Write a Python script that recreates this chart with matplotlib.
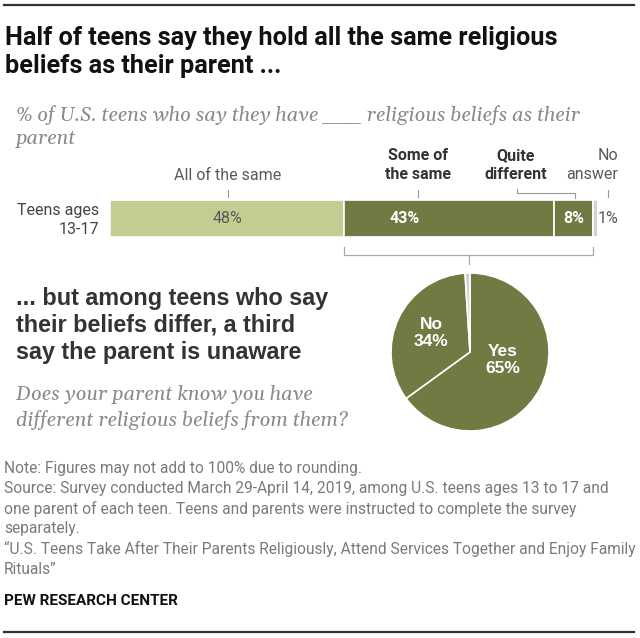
import matplotlib
matplotlib.use("Agg")
import matplotlib.pyplot as plt
import numpy as np

# data
bar_labels = ["All of the same", "Some of\nthe same", "Quite\ndifferent", "No\nanswer"]
bar_values = [48, 43, 8, 1]
bar_text = ["48%", "43%", "8%", "1%"]
pie_labels = ["Yes", "No", "No answer"]
pie_values = [65, 34, 1]

LIGHT = "#c3cd92"
DARK = "#727a44"
GRAY_NA = "#d2d2d2"
TXT = "#595959"
NOTE = "#7a7a7a"

BODY = ["Roboto", "DejaVu Sans"]
HEAD = ["Liberation Sans", "DejaVu Sans"]
SERIF = ["Gelasio", "DejaVu Serif"]
LBL = 11.5

W, H = 640, 638
fig = plt.figure(figsize=(W / 100, H / 100), dpi=100)

# background axes in pixel units for text and rules
bg = fig.add_axes([0, 0, 1, 1])
bg.set_xlim(0, W)
bg.set_ylim(H, 0)
bg.axis("off")

def px_axes(x0, y0, x1, y1):
    return fig.add_axes([x0 / W, 1 - y1 / H, (x1 - x0) / W, (y1 - y0) / H])

# top and bottom rules
bg.plot([4, 634], [5, 5], color="#333333", lw=1.6)
bg.plot([4, 634], [632, 632], color="#333333", lw=1.6)

# title
bg.text(5, 38, "Half of teens say they hold all the same religious", fontsize=18.2,
        fontweight="bold", family=BODY, color="#111111", va="center")
bg.text(5, 66, "beliefs as their parent ...", fontsize=18.2,
        fontweight="bold", family=BODY, color="#111111", va="center")

# subtitle
bg.text(16, 115, "% of U.S. teens who say they have ___ religious beliefs as their",
        fontsize=14.4, style="italic", family=SERIF, color="#8a8a8a", va="center")
bg.text(16, 139, "parent", fontsize=14.4, style="italic", family=SERIF,
        color="#8a8a8a", va="center")

# stacked bar
bx = px_axes(110, 200, 598, 237)
left = np.concatenate([[0], np.cumsum(bar_values)[:-1]])
colors = [LIGHT, DARK, DARK, GRAY_NA]
bx.barh([0], bar_values, left=left, color=colors, height=1.0,
        edgecolor="white", linewidth=1.2)
bx.set_xlim(0, 100)
bx.set_ylim(-0.5, 0.5)
bx.axis("off")

# value labels inside the bar
bx.text(left[0] + bar_values[0] / 2, 0, bar_text[0], ha="center", va="center",
        fontsize=LBL, family=BODY, color=TXT)
bx.text(left[1] + bar_values[1] * 0.29, 0, bar_text[1], ha="center", va="center",
        fontsize=LBL, family=BODY, color="white", fontweight="bold")
bx.text(left[2] + bar_values[2] / 2, 0, bar_text[2], ha="center", va="center",
        fontsize=LBL, family=BODY, color="white", fontweight="bold")
bx.text(99.9, 0, bar_text[3], ha="left", va="center",
        fontsize=LBL, family=BODY, color=TXT)

# row label
bg.text(99, 210, "Teens ages", ha="right", va="center", fontsize=LBL, family=BODY, color="#444444")
bg.text(99, 230, "13-17", ha="right", va="center", fontsize=LBL, family=BODY, color="#444444")

# category labels above bar
bg.text(228, 175, bar_labels[0], ha="center", va="center", fontsize=LBL, family=BODY, color=TXT)
bg.plot([228, 228], [190, 197], color="#999999", lw=0.8)
bg.text(418, 165, bar_labels[1], ha="center", va="center", fontsize=LBL, family=BODY,
        color="#333333", fontweight="bold", linespacing=1.35)
bg.plot([418, 418], [190, 197], color="#999999", lw=0.8)
bg.text(516, 165, bar_labels[2], ha="center", va="center", fontsize=LBL, family=BODY,
        color="#333333", fontweight="bold", linespacing=1.35)
bg.plot([517, 517, 575, 575], [189, 193, 193, 198], color="#999999", lw=0.8)
bg.text(618, 165, bar_labels[3], ha="right", va="center", fontsize=LBL, family=BODY,
        color=TXT, linespacing=1.35)
bg.plot([608, 608], [190, 197], color="#999999", lw=0.8)

# bracket below bar
bg.plot([344, 344, 593, 593], [247, 255, 255, 247], color="#aaaaaa", lw=0.9)
bg.plot([469, 469], [255, 264], color="#aaaaaa", lw=0.9)

# second heading
for i, line in enumerate(["... but among teens who say",
                          "their beliefs differ, a third",
                          "say the parent is unaware"]):
    bg.text(16, 298 + 27 * i, line, fontsize=16.8, fontweight="bold", family=HEAD,
            color="#333333", va="center")
bg.text(16, 395, "Does your parent know you have", fontsize=14.4, style="italic",
        family=SERIF, color="#8a8a8a", va="center")
bg.text(16, 420, "different religious beliefs from them?", fontsize=14.4, style="italic",
        family=SERIF, color="#8a8a8a", va="center")

# pie
px = px_axes(391, 273, 549, 431)
wedges, _ = px.pie(pie_values, colors=[DARK, DARK, GRAY_NA], startangle=90,
                   counterclock=False, radius=1.0,
                   wedgeprops=dict(edgecolor="white", linewidth=1.2))
px.set_xlim(-1, 1)
px.set_ylim(-1, 1)
px.set_aspect("auto")
px.text(0.42, -0.1, "Yes\n65%", ha="center", va="center", color="white",
        fontsize=12.5, fontweight="bold", family=HEAD, linespacing=1.2)
px.text(-0.49, 0.24, "No\n34%", ha="center", va="center", color="white",
        fontsize=12.5, fontweight="bold", family=HEAD, linespacing=1.2)

# notes
notes = [
    "Note: Figures may not add to 100% due to rounding.",
    "Source: Survey conducted March 29-April 14, 2019, among U.S. teens ages 13 to 17 and",
    "one parent of each teen. Teens and parents were instructed to complete the survey",
    "separately.",
    "\u201cU.S. Teens Take After Their Parents Religiously, Attend Services Together and Enjoy Family",
    "Rituals\u201d",
]
for i, line in enumerate(notes):
    bg.text(4, 469 + 20 * i, line, fontsize=11.2, family=BODY, color=NOTE, va="center")
bg.text(4, 601, "PEW RESEARCH CENTER", fontsize=11, fontweight="bold", family=BODY,
        color="#111111", va="center")

fig.savefig("out.png", dpi=100)
